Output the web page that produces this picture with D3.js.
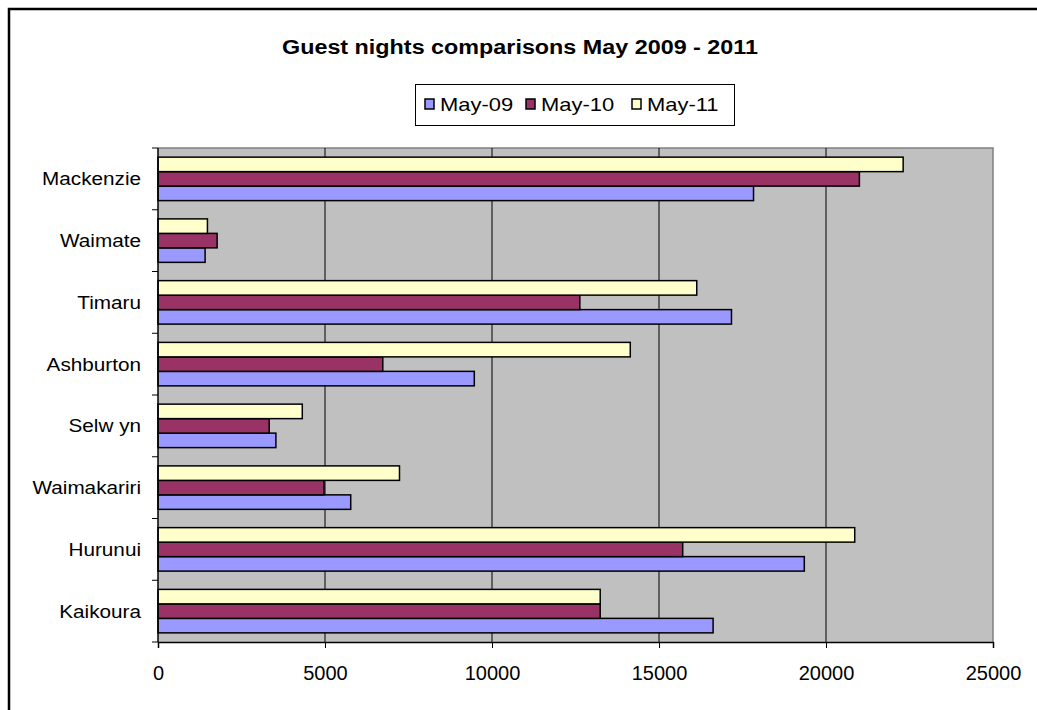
<!DOCTYPE html>
<html>
<head>
<meta charset="utf-8">
<script src="https://cdn.jsdelivr.net/npm/d3@7"></script>
<style>
  html, body { margin: 0; padding: 0; background: #fff; }
  svg { display: block; font-family: "Liberation Sans", Arial, sans-serif; }
</style>
</head>
<body>
<svg id="chart" width="1037" height="710"></svg>
<script>
// ---- data ----
const title = "Guest nights comparisons May 2009 - 2011";
const categories = ["Mackenzie", "Waimate", "Timaru", "Ashburton", "Selw yn", "Waimakariri", "Hurunui", "Kaikoura"];
const seriesNames = ["May-09", "May-10", "May-11"];
const may09 = [17830, 1410, 17170, 9470, 3530, 5770, 19350, 16620];
const may10 = [21000, 1770, 12630, 6730, 3330, 4970, 15710, 13240];
const may11 = [22310, 1480, 16130, 14140, 4320, 7230, 20860, 13240];
const xTicks = [0, 5000, 10000, 15000, 20000, 25000];
const colors = ["#9999FF", "#993366", "#FFFFCC"];

const seriesValues = [may09, may10, may11];

const svg = d3.select("#chart");
const plot = { left: 158, right: 993, top: 148, bottom: 642 };

// outer chart border
svg.append("rect").attr("x", 9).attr("y", 9).attr("width", 1100).attr("height", 800)
  .attr("fill", "#fff").attr("stroke", "#000").attr("stroke-width", 2.5);

// title
svg.append("text").attr("x", 282).attr("y", 54)
  .attr("font-weight", "bold").attr("font-size", 19.5)
  .attr("textLength", 476).attr("lengthAdjust", "spacingAndGlyphs")
  .text(title);

// scales
const x = d3.scaleLinear().domain([0, 25000]).range([plot.left, plot.right]);
const y = d3.scaleBand().domain(categories).range([plot.top, plot.bottom])
  .paddingInner(0.296).paddingOuter(0.148);
// within a group, May-11 on top, May-09 at bottom
const ySub = d3.scaleBand().domain(seriesNames.slice().reverse()).range([0, y.bandwidth()]);

// plot background
svg.append("rect").attr("x", plot.left).attr("y", plot.top)
  .attr("width", plot.right - plot.left).attr("height", plot.bottom - plot.top)
  .attr("fill", "#C0C0C0");
// plot border top/right (grey)
svg.append("path")
  .attr("d", `M${plot.left},${plot.top}H${plot.right}V${plot.bottom}`)
  .attr("fill", "none").attr("stroke", "#808080").attr("stroke-width", 1.5);

// gridlines
svg.append("g").selectAll("line").data(xTicks.filter(t => t > 0 && t < 25000)).join("line")
  .attr("x1", d => x(d)).attr("x2", d => x(d))
  .attr("y1", plot.top).attr("y2", plot.bottom)
  .attr("stroke", "#000").attr("stroke-width", 1);

// bars
const rows = [];
categories.forEach((c, i) => {
  seriesNames.forEach((s, j) => rows.push({ cat: c, series: s, value: seriesValues[j][i], color: colors[j] }));
});
svg.append("g").selectAll("rect").data(rows).join("rect")
  .attr("x", x(0))
  .attr("y", d => y(d.cat) + ySub(d.series))
  .attr("width", d => x(d.value) - x(0))
  .attr("height", ySub.bandwidth())
  .attr("fill", d => d.color)
  .attr("stroke", "#000").attr("stroke-width", 1.5);

// x axis
const xAxis = d3.axisBottom(x).tickValues(xTicks).tickSize(6).tickPadding(20).tickFormat(d3.format("d"));
const gx = svg.append("g").attr("transform", `translate(0,${plot.bottom})`).call(xAxis);
gx.select(".domain").attr("stroke", "#000").attr("stroke-width", 1.5);
gx.selectAll(".tick line").attr("stroke", "#000");
gx.selectAll(".tick text").attr("font-size", 20).attr("fill", "#000")
  .attr("font-family", "Liberation Sans, Arial, sans-serif").attr("dy", null).attr("y", 38);

// y axis: ticks at category boundaries
const step = y.step();
const boundaries = d3.range(categories.length + 1).map(i => plot.top + i * step);
svg.append("line").attr("x1", plot.left).attr("x2", plot.left)
  .attr("y1", plot.top).attr("y2", plot.bottom).attr("stroke", "#000").attr("stroke-width", 1.5);
svg.append("g").selectAll("line").data(boundaries).join("line")
  .attr("x1", plot.left - 6).attr("x2", plot.left).attr("y1", d => d).attr("y2", d => d)
  .attr("stroke", "#000").attr("stroke-width", 1);
svg.append("g").selectAll("text").data(categories).join("text")
  .attr("transform", d => `translate(141,${y(d) + y.bandwidth() / 2 + 6.5}) scale(1.12,1)`)
  .attr("text-anchor", "end").attr("font-size", 18.5).attr("fill", "#000")
  .text(d => d);

// legend
const lg = svg.append("g");
lg.append("rect").attr("x", 415.5).attr("y", 84.5).attr("width", 319).attr("height", 41)
  .attr("fill", "#fff").attr("stroke", "#000").attr("stroke-width", 1);
const legendX = [425, 526, 632];
seriesNames.forEach((s, j) => {
  lg.append("rect").attr("x", legendX[j]).attr("y", 99).attr("width", 9).attr("height", 10)
    .attr("fill", colors[j]).attr("stroke", "#000").attr("stroke-width", 1.5);
  lg.append("text").attr("transform", `translate(${legendX[j] + 15},111) scale(1.22,1)`)
    .attr("font-size", 18).attr("fill", "#000").text(s);
});
</script>
</body>
</html>
